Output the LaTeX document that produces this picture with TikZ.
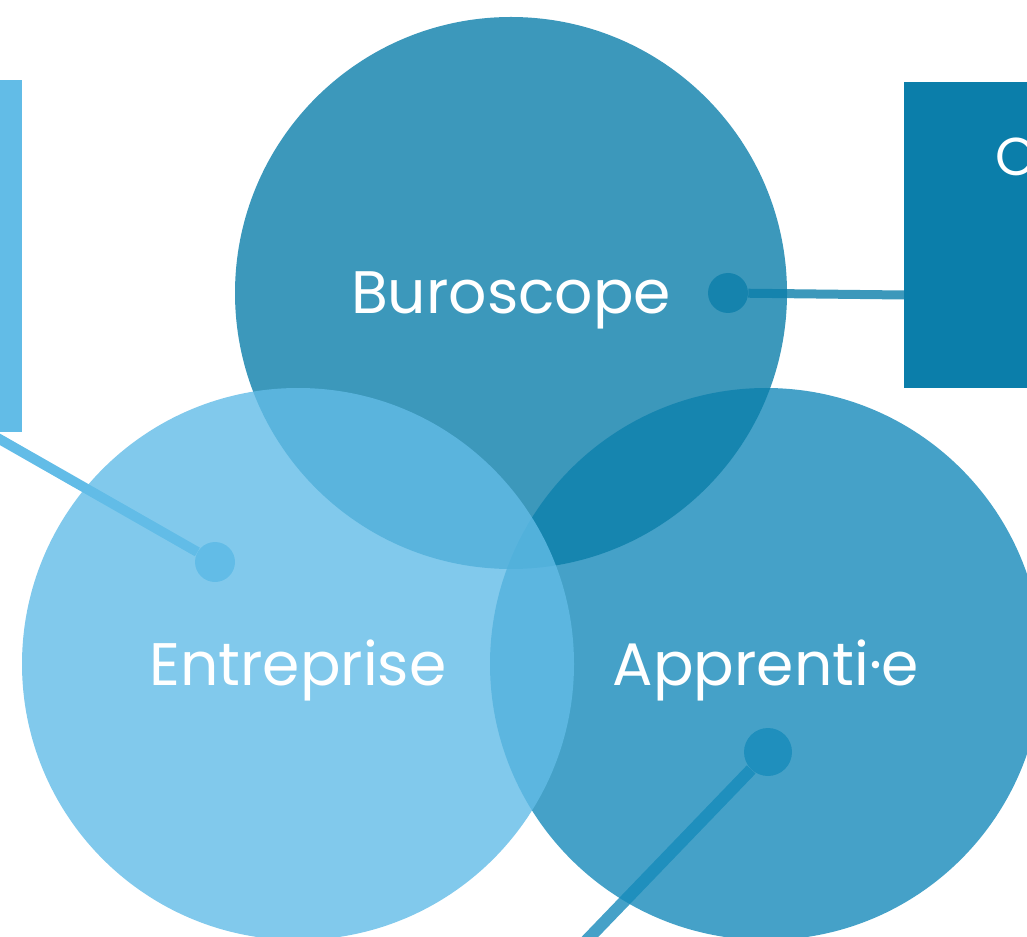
\documentclass[tikz,border=0pt]{standalone}
\usepackage{fontspec}
\setmainfont{Poppins}
\usetikzlibrary{shapes.geometric, arrows.meta, positioning, calc}

\definecolor{buroblue}{HTML}{0B7EAA}
\definecolor{entrblue}{HTML}{62BCE7}
\definecolor{apprblue}{HTML}{168ABA}

\begin{document}
\begin{tikzpicture}[
    x=0.75pt, y=-0.75pt,
    bubble/.style={circle, minimum size=414pt, inner sep=0pt, text=white, font=\fontsize{45}{54}\selectfont, text height=31.5pt, text depth=0pt, fill opacity=0.8, text opacity=1},
    dot/.style={circle, minimum size=30pt, inner sep=0pt},
    panel/.style={rectangle, inner sep=0pt},
    link/.style={line width=7pt},
]
    \useasboundingbox (0,0) rectangle (1027,937);
    \clip (0,0) rectangle (1027,937);

    % side panels
    \node (info_bar) [panel, fill=entrblue, minimum width=91.5pt, minimum height=264pt] at (-39,256) {};
    \node (partner_box) [panel, fill=buroblue, minimum width=225pt, minimum height=229.5pt] at (1054,235) {};
    \node (partner_text) [anchor=west, inner sep=0pt, text=white, font=\fontsize{40}{48}\selectfont] at (995,157) {O};

    % the three circles
    \node (apprenti) [bubble, fill=apprblue] at (766,664) {};
    \node (buroscope) [bubble, fill=buroblue] at (511,293) {Buroscope};
    \node (entreprise) [bubble, fill=entrblue] at (298,664) {Entreprise};
    % label on top so the upper circle does not veil it
    \node (apprenti_label) [bubble, fill=none] at (apprenti.center) {Apprenti·e};

    % dots and their lines
    \node (buro_dot) [dot, fill=buroblue, fill opacity=0.8] at (728,293) {};
    \coordinate (buro_end) at (904,295);
    \draw [link, draw=buroblue, draw opacity=0.8, line width=6.75pt] (buro_dot) -- (buro_end);

    \node (entr_dot) [dot, fill=entrblue] at (215,562) {};
    \coordinate (entr_end) at (-20,428);
    \draw [link, draw=entrblue, line width=7.5pt] (entr_end) -- (entr_dot);

    \node (appr_dot) [dot, minimum size=36pt, fill=apprblue, fill opacity=0.8] at (768,752) {};
    \coordinate (appr_end) at (560,968);
    \draw [link, draw=apprblue, draw opacity=0.8, line width=9pt] (appr_dot) -- (appr_end);

\end{tikzpicture}
\end{document}
